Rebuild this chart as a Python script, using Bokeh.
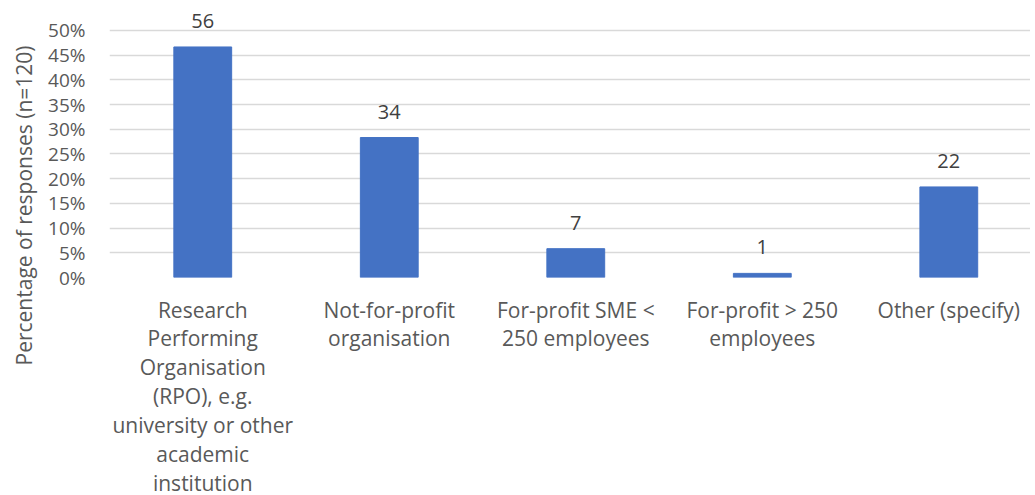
from bokeh.plotting import figure
from bokeh.models import ColumnDataSource, Range1d, FixedTicker, NumeralTickFormatter, LabelSet, Title
from bokeh.core.properties import value
from bokeh.embed import file_html
from bokeh.resources import INLINE

categories = [
    "Research\nPerforming\nOrganisation\n(RPO), e.g.\nuniversity or other\nacademic\ninstitution",
    "Not-for-profit\norganisation",
    "For-profit SME <\n250 employees",
    "For-profit > 250\nemployees",
    "Other (specify)",
]
counts = [56, 34, 7, 1, 22]
n_total = 120
y_ticks = [0, 0.05, 0.10, 0.15, 0.20, 0.25, 0.30, 0.35, 0.40, 0.45, 0.50]

pct = [c / n_total for c in counts]
xs = list(range(len(categories)))
src = ColumnDataSource(dict(x=xs, pct=pct, lbl=[str(c) for c in counts]))

FONT = "Open Sans"
GRAY = "#595959"

p = figure(width=1030, height=490, output_backend="svg", toolbar_location=None,
           x_range=Range1d(-0.5, 4.438), y_range=Range1d(0, 0.5607),
           min_border_left=109, min_border_right=0, min_border_top=0, min_border_bottom=213)
p.frame_width = 921
p.frame_height = 277
p.outline_line_color = None
p.background_fill_color = "white"
p.border_fill_color = "white"

p.vbar(x="x", top="pct", width=0.31, source=src, color="#4472C4")

labels = LabelSet(x="x", y="pct", text="lbl", source=src, text_align="center",
                  text_baseline="alphabetic", y_offset=19, text_font=value(FONT),
                  text_font_size="20px", text_color="#404040")
p.add_layout(labels)

p.xgrid.visible = False
p.ygrid.ticker = FixedTicker(ticks=y_ticks)
p.ygrid.grid_line_color = "#D9D9D9"
p.ygrid.grid_line_width = 1.3

ya = p.yaxis[0]
ya.ticker = FixedTicker(ticks=y_ticks)
ya.formatter = NumeralTickFormatter(format="0%")
ya.axis_line_color = None
ya.major_tick_line_color = None
ya.minor_tick_line_color = None
ya.major_tick_out = 0
ya.major_tick_in = 0
ya.major_label_standoff = 24
ya.major_label_text_font = FONT
ya.major_label_text_font_size = "19px"
ya.major_label_text_color = GRAY

ytitle = Title(text="Percentage of responses (n=120)", align="left", offset=-88,
               text_font=FONT, text_font_size="21px", text_font_style="normal",
               text_color=GRAY, standoff=15)
p.add_layout(ytitle, "left")

xa = p.xaxis[0]
xa.ticker = FixedTicker(ticks=xs)
xa.major_label_overrides = {i: c for i, c in zip(xs, categories)}
xa.axis_line_color = None
xa.major_tick_line_color = None
xa.minor_tick_line_color = None
xa.major_tick_out = 0
xa.major_tick_in = 0
xa.major_label_standoff = 18
xa.major_label_text_font = FONT
xa.major_label_text_font_size = "21px"
xa.major_label_text_color = GRAY
xa.major_label_text_line_height = 1.03

open("out.html", "w").write(file_html(p, INLINE))
